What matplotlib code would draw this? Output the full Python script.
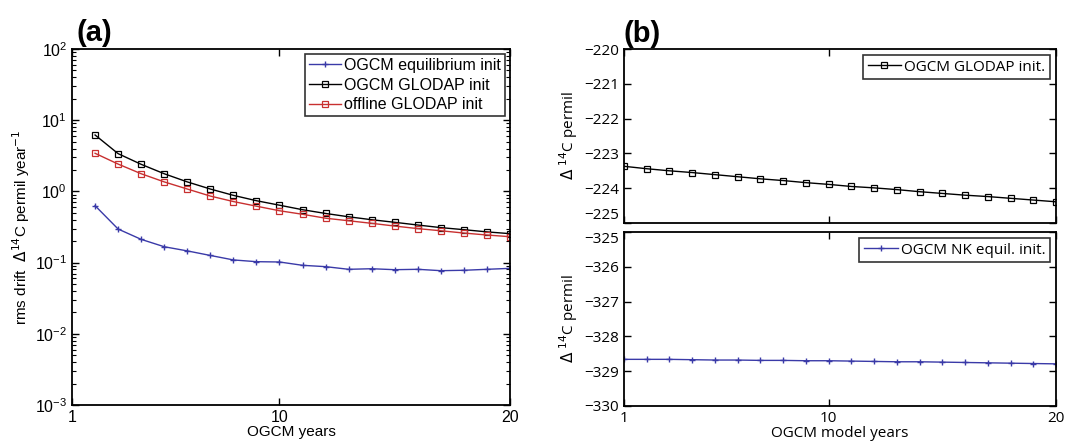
import numpy as np
import matplotlib
matplotlib.use("Agg")
import matplotlib.pyplot as plt
from matplotlib.ticker import LogLocator, NullFormatter

# panel (a): rms drift vs OGCM years
years_a = list(range(2, 21))
ogcm_glodap = [6.2, 3.39, 2.40, 1.77, 1.36, 1.08, 0.88, 0.74, 0.64, 0.553,
               0.49, 0.44, 0.40, 0.368, 0.337, 0.31, 0.29, 0.27, 0.255]
offline_glodap = [3.43, 2.42, 1.77, 1.36, 1.08, 0.86, 0.72, 0.62, 0.535, 0.477,
                  0.42, 0.387, 0.356, 0.326, 0.30, 0.28, 0.26, 0.244, 0.231]
ogcm_equil = [0.63, 0.296, 0.212, 0.167, 0.146, 0.126, 0.109, 0.103, 0.102, 0.0916,
              0.0877, 0.0805, 0.082, 0.0795, 0.0805, 0.077, 0.078, 0.0805, 0.083]

# panel (b): mean D14C vs OGCM model years
years_b = list(range(1, 21))
glodap_mean = [-223.37, -223.44, -223.50, -223.55, -223.61, -223.67, -223.73, -223.78,
               -223.84, -223.89, -223.95, -223.99, -224.04, -224.10, -224.15, -224.20,
               -224.24, -224.29, -224.34, -224.39]
nk_mean = [-328.66, -328.66, -328.66, -328.67, -328.68, -328.68, -328.69, -328.69,
           -328.70, -328.70, -328.71, -328.72, -328.73, -328.73, -328.74, -328.75,
           -328.76, -328.77, -328.78, -328.79]

xticks = [1, 10, 20]

blue = '#3a3aa8'
red = '#c83030'

plt.rcParams['font.family'] = ['Liberation Sans', 'DejaVu Sans']
plt.rcParams['xtick.direction'] = 'in'
plt.rcParams['ytick.direction'] = 'in'
plt.rcParams['axes.linewidth'] = 1.3

fig = plt.figure(figsize=(10.67, 4.48), dpi=100)

# ---- (a) ----
ax = fig.add_axes([0.0675, 0.096, 0.4105, 0.7946])
ax.plot(years_a, ogcm_equil, color=blue, lw=1, marker='+', ms=5, mew=1,
        label='OGCM equilibrium init')
ax.plot(years_a, ogcm_glodap, color='black', lw=1, marker='s', ms=5, mfc='none', mew=0.9,
        label='OGCM GLODAP init')
ax.plot(years_a, offline_glodap, color=red, lw=1, marker='s', ms=5, mfc='none', mew=0.9,
        label='offline GLODAP init')
ax.set_yscale('log')
ax.set_ylim(1e-3, 1e2)
ax.set_xlim(1, 20)
ax.set_xticks(xticks)
ax.set_xticklabels(['1', '10', '20'])
ax.yaxis.set_major_locator(LogLocator(base=10, numticks=10))
ax.yaxis.set_minor_locator(LogLocator(base=10, subs=np.arange(2, 10), numticks=20))
ax.yaxis.set_minor_formatter(NullFormatter())
ax.tick_params(which='both', top=True, right=True, labelsize=11.5)
ax.tick_params(which='major', length=5, width=1)
ax.tick_params(which='minor', length=3, width=0.8)
ax.set_xlabel('OGCM years', fontsize=11, labelpad=0)
ax.set_ylabel(r'rms drift  $\Delta^{14}$C permil year$^{-1}$', fontsize=11, labelpad=2)
leg = ax.legend(loc='upper right', fontsize=11.5, frameon=True, fancybox=False,
                edgecolor='black', handlelength=2.0, handletextpad=0.2,
                borderpad=0.25, labelspacing=0.3, borderaxespad=0.3)
leg.get_frame().set_linewidth(1.2)
ax.text(0.01, 1.005, '(a)', transform=ax.transAxes, fontsize=21, fontweight='bold',
        ha='left', va='bottom')

# ---- (b) ----
bfont = ['Open Sans', 'DejaVu Sans']
axt = fig.add_axes([0.5848, 0.5022, 0.4049, 0.3884])
axb = fig.add_axes([0.5848, 0.0938, 0.4049, 0.3884])

axt.plot(years_b, glodap_mean, color='black', lw=1, marker='s', ms=5, mfc='none', mew=0.9,
         label='OGCM GLODAP init.')
axt.set_ylim(-225, -220)
axt.set_yticks([-225, -224, -223, -222, -221, -220])

axb.plot(years_b, nk_mean, color=blue, lw=1, marker='+', ms=5, mew=1,
         label='OGCM NK equil. init.')
axb.set_ylim(-330, -325)
axb.set_yticks([-330, -329, -328, -327, -326, -325])

for a in (axt, axb):
    a.set_xlim(1, 20)
    a.set_xticks(xticks)
    a.tick_params(which='major', top=True, right=True, length=5, width=1, labelsize=11)
    for lab in a.get_yticklabels():
        lab.set_family(bfont)
    a.set_ylabel(r'$\Delta$ $^{14}$C permil', fontsize=11, family=bfont, labelpad=3)
    lg = a.legend(loc='upper right', frameon=True, fancybox=False,
                  edgecolor='black', handlelength=2.2, handletextpad=0.2,
                  borderpad=0.3, borderaxespad=0.4, prop={'family': bfont, 'size': 11})
    lg.get_frame().set_linewidth(1.2)

# keep the touching limits of the two stacked axes apart
axt.get_yticklabels()[0].set_va('bottom')
axb.get_yticklabels()[-1].set_va('top')

axt.set_xticklabels([])
axb.set_xticklabels(['1', '10', '20'])
for lab in axb.get_xticklabels():
    lab.set_family(bfont)
axb.set_xlabel('OGCM model years', fontsize=11, family=bfont, labelpad=0)
axt.text(0.0, 1.005, '(b)', transform=axt.transAxes, fontsize=21, fontweight='bold',
         ha='left', va='bottom')

fig.savefig('out.png', dpi=100)
